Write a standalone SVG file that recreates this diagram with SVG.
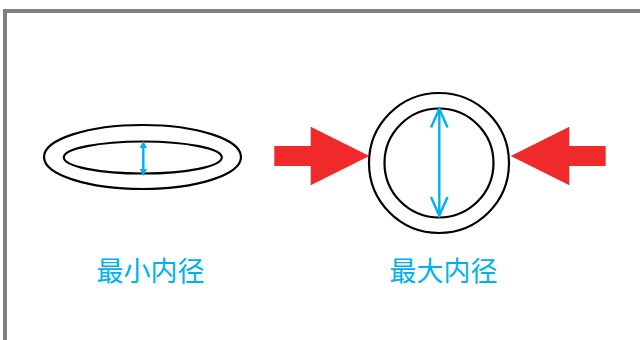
<svg xmlns="http://www.w3.org/2000/svg" width="640" height="340" viewBox="0 0 640 340">
<style>
.ring{fill:none;stroke:#000;stroke-width:2.2}
.dim{stroke:#00b0f0;stroke-width:2.4;fill:none}
.tip{fill:#00b0f0}
.big{fill:#f02a2a}
.lab{font-family:"Noto Sans CJK SC","Noto Sans CJK JP",sans-serif;font-size:27px;fill:#00b0f0;text-anchor:middle}
</style>
<rect width="640" height="340" fill="#fff"/>
<path d="M640,11 H5 V340" fill="none" stroke="#808080" stroke-width="4"/>
<g id="flat"><ellipse class="ring" cx="142.5" cy="157" rx="98.5" ry="32"/><ellipse class="ring" cx="142.8" cy="157.5" rx="79" ry="16"/></g>
<g id="round"><circle class="ring" cx="439" cy="163" r="70"/><circle class="ring" cx="439" cy="163" r="54.5"/></g>
<g id="connectors">
<path class="dim" d="M143.3,145 V172"/><path class="tip" d="M143.3,141 L147,148 H139.6 Z M143.3,176 L147,169 H139.6 Z"/>
<path class="dim" d="M439.3,109 V215"/><path class="dim" d="M431,127.5 L439.3,109 L447.6,127.5 M431,197 L439.3,215.5 L447.6,197"/>
<path class="big" d="M274.3,146 H310.7 V126.7 L369.3,156 L310.7,185.3 V166 H274.3 Z"/>
<path class="big" d="M605.7,146 H569.3 V126.7 L510.7,156 L569.3,185.3 V166 H605.7 Z"/>
</g>
<text class="lab" x="150.5" y="281">最小内径</text>
<text class="lab" x="443.5" y="281">最大内径</text>
</svg>
